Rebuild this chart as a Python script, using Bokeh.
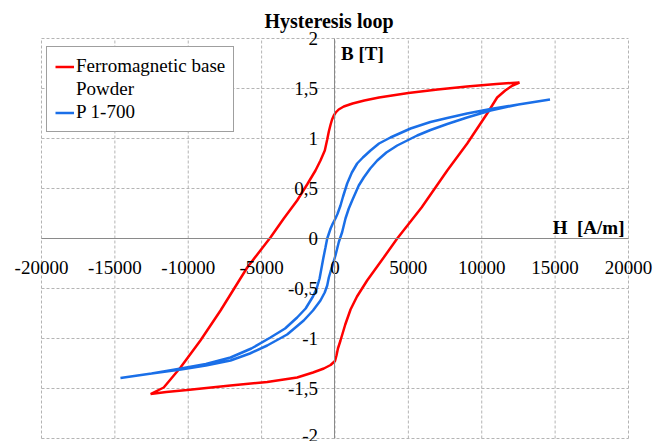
from bokeh.plotting import figure
from bokeh.models import (FixedTicker, Label, Legend, LegendItem, Range1d)
from bokeh.embed import file_html
from bokeh.resources import INLINE

# ---- data ----
# Ferromagnetic base powder: ascending branch (from -tip to +tip)
red_asc_H = [-12570, -11500, -10070, -7120, -4620, -2580, -1500, -760, -300,
             0, 100, 200, 375, 700, 1060, 1500, 2190, 3320, 4240, 5900, 7650,
             9010, 10370, 11050, 11600, 12100, 12570]
red_asc_B = [-1.555, -1.535, -1.515, -1.47, -1.435, -1.39, -1.34, -1.30,
             -1.265, -1.225, -1.17, -1.10, -1.02, -0.86, -0.71, -0.58, -0.42,
             -0.19, 0.0, 0.31, 0.68, 0.95, 1.25, 1.41, 1.48, 1.53, 1.56]
# descending branch (from +tip to -tip)
red_desc_H = [12570, 11000, 9000, 7000, 5000, 3000, 2000, 1200, 600, 250, 50,
              -80, -200, -300, -420, -530, -695, -990, -1330, -1900, -2580,
              -3490, -4400, -5980, -7800, -9170, -10530, -11670, -12570]
red_desc_B = [1.56, 1.545, 1.52, 1.49, 1.455, 1.41, 1.38, 1.35, 1.32, 1.29,
              1.26, 1.23, 1.19, 1.14, 1.07, 0.99, 0.88, 0.78, 0.68, 0.54,
              0.38, 0.20, 0.01, -0.29, -0.72, -1.02, -1.29, -1.49, -1.555]

# P 1-700: descending branch (from +tip to -tip)
blue_desc_H = [14650, 12500, 10600, 9000, 7650, 6500, 5150, 3780, 3000, 2420,
               1900, 1510, 1150, 830, 550, 375, 180, 30, -150, -300, -530,
               -650, -800, -1050, -1250, -1500, -2000, -2580, -3400, -4400,
               -5700, -7120, -8800, -10500, -12500, -14620]
blue_desc_B = [1.39, 1.34, 1.295, 1.25, 1.205, 1.165, 1.10, 1.01, 0.95, 0.88,
               0.81, 0.75, 0.66, 0.55, 0.42, 0.33, 0.25, 0.20, 0.15, 0.10,
               0.0, -0.09, -0.2, -0.4, -0.5, -0.58, -0.70, -0.79, -0.90,
               -0.99, -1.10, -1.19, -1.255, -1.30, -1.35, -1.395]
# ascending branch (from -tip to +tip)
blue_asc_H = [-14620, -12500, -10500, -8800, -7120, -5800, -4620, -3260,
              -2130, -1500, -990, -700, -530, -420, -300, -190, 30, 260, 490,
              715, 940, 1170, 1620, 1960, 2400, 2880, 3500, 4240, 5600, 6510,
              7650, 9000, 10600, 12500, 14650]
blue_asc_B = [-1.395, -1.35, -1.31, -1.27, -1.22, -1.15, -1.07, -0.96, -0.82,
              -0.72, -0.62, -0.54, -0.47, -0.39, -0.33, -0.28, -0.17, -0.035,
              0.065, 0.20, 0.30, 0.38, 0.53, 0.61, 0.70, 0.78, 0.86, 0.93,
              1.03, 1.085, 1.145, 1.21, 1.28, 1.34, 1.39]

red_H = red_asc_H + red_desc_H[1:]
red_B = red_asc_B + red_desc_B[1:]
blue_H = blue_desc_H + blue_asc_H[1:]
blue_B = blue_desc_B + blue_asc_B[1:]

x_ticks = [-20000, -15000, -10000, -5000, 0, 5000, 10000, 15000, 20000]
x_labels = ["-20000", "-15000", "-10000", "-5000", "0", "5000", "10000",
            "15000", "20000"]
y_ticks = [-2, -1.5, -1, -0.5, 0, 0.5, 1, 1.5, 2]
y_labels = ["-2", "-1,5", "-1", "-0,5", "0", "0,5", "1", "1,5", "2"]

series_names = ["Ferromagnetic base", "Powder", "P 1-700"]
title_text = "Hysteresis loop"
y_title = "B [T]"
x_title = "H \u00a0[A/m]"

FONT = "Liberation Serif"

# frame slightly larger than the tick span so that edge labels are not clipped
p = figure(width=654, height=441, output_backend="svg", toolbar_location=None,
           x_range=Range1d(-21976, 21704), y_range=Range1d(-2.03, 2.07),
           min_border_left=12, min_border_right=1, min_border_top=31,
           min_border_bottom=0)
p.outline_line_color = None
p.background_fill_color = "white"
p.border_fill_color = "white"
p.xgrid.visible = False
p.ygrid.visible = False

p.title.text = title_text
p.title.text_font = FONT
p.title.text_font_size = "20px"
p.title.text_font_style = "bold"
p.title.text_color = "black"
p.title.align = "left"
p.title.offset = 252
p.title.standoff = -1

# dashed grid spanning exactly the tick extent
nx, ny = len(x_ticks), len(y_ticks)
p.segment(x0=x_ticks, y0=[y_ticks[0]] * nx, x1=x_ticks, y1=[y_ticks[-1]] * nx,
          line_color="#b4b4b4", line_dash="3 2", line_width=1, level="underlay")
p.segment(x0=[x_ticks[0]] * ny, y0=y_ticks, x1=[x_ticks[-1]] * ny, y1=y_ticks,
          line_color="#b4b4b4", line_dash="3 2", line_width=1, level="underlay")

for ax, ticks, labels, standoff in ((p.xaxis, x_ticks, x_labels, 22),
                                    (p.yaxis, y_ticks, y_labels, 17)):
    ax.ticker = FixedTicker(ticks=ticks)
    ax.major_label_overrides = {t: l for t, l in zip(ticks, labels)}
    ax.fixed_location = 0
    ax.bounds = (ticks[0], ticks[-1])
    ax.axis_line_color = "#8a8a8a"
    ax.axis_line_width = 1
    ax.major_tick_in = 0
    ax.major_tick_out = 0
    ax.minor_tick_in = 0
    ax.minor_tick_out = 0
    ax.major_label_text_font = FONT
    ax.major_label_text_font_size = "19px"
    ax.major_label_text_color = "black"
    ax.major_label_standoff = standoff

red = p.line(red_H, red_B, line_color="#ff0000", line_width=2.5)
blue = p.line(blue_H, blue_B, line_color="#1a6fe8", line_width=2.5)
blank = p.line(x=[], y=[], line_alpha=0)

legend = Legend(items=[LegendItem(label=series_names[0], renderers=[red]),
                       LegendItem(label=series_names[1], renderers=[blank]),
                       LegendItem(label=series_names[2], renderers=[blue])],
                location=(34, 309), padding=8, spacing=1, label_height=21,
                glyph_height=21, glyph_width=19, label_standoff=2, margin=0,
                border_line_color="#404040", border_line_width=1,
                background_fill_color="white", background_fill_alpha=1,
                label_text_font=FONT, label_text_font_size="19px",
                label_text_color="black")
p.add_layout(legend)

p.add_layout(Label(x=0, y=y_ticks[-1], x_offset=6, y_offset=-4, text=y_title,
                   text_baseline="top", text_font=FONT,
                   text_font_size="19px", text_font_style="bold",
                   text_color="black"))
p.add_layout(Label(x=x_ticks[-1], y=0, x_offset=-4, y_offset=11, text=x_title,
                   text_align="right", text_baseline="alphabetic",
                   text_font=FONT, text_font_size="19px",
                   text_font_style="bold", text_color="black"))

open("out.html", "w").write(file_html(p, INLINE))
